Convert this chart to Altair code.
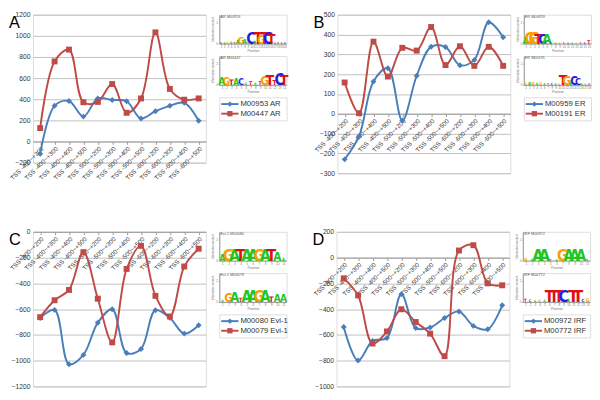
import altair as alt
import pandas as pd

categories = ["TSS -400~+200", "TSS -400~+300", "TSS -400~+400", "TSS -400~+500",
              "TSS -500~+200", "TSS -500~+300", "TSS -500~+400", "TSS -500~+500",
              "TSS -600~+200", "TSS -600~+300", "TSS -600~+400", "TSS -600~+500"]

# Panel A
a_series = ["M00953 AR", "M00447 AR"]
a_blue = [-115, 338, 384, 236, 408, 393, 381, 218, 287, 338, 366, 196]
a_red = [127, 758, 870, 372, 375, 544, 272, 408, 1033, 498, 396, 408]
# Panel B
b_series = ["M00959 ER", "M00191 ER"]
b_blue = [-230, -113, 163, 230, -34, 192, 338, 337, 245, 272, 462, 386]
b_red = [158, 3, 364, 188, 333, 319, 438, 246, 341, 242, 338, 242]
# Panel C
c_series = ["M00080 Evi-1", "M00079 Evi-1"]
c_blue = [-669, -606, -1028, -955, -705, -601, -941, -909, -608, -668, -790, -725]
c_red = [-662, -531, -451, -158, -519, -858, -288, -109, -497, -657, -269, -131]
# Panel D
d_series = ["M00972 IRF", "M00772 IRF"]
d_blue = [-539, -799, -646, -624, -285, -547, -542, -469, -418, -530, -556, -370]
d_red = [-161, -294, -667, -573, -401, -500, -590, -765, 55, 96, -200, -215]

# sequence logos (letters and information content in bits)
a_logo1_title = "AR M00953"
a_logo1_letters = list("CAGATAGAGCATGTCTATAC")
a_logo1_bits = [0.1, 0.1, 0.15, 0.2, 0.1, 0.5, 0.9, 0.6, 0.2, 1.6, 0.3, 1.6, 1.2, 1.6, 1.7, 1.4, 0.1, 0.1, 0.1, 0.1]
a_logo2_title = "AR M00447"
a_logo2_letters = list("AGTACATATGTTCT")
a_logo2_bits = [1.0, 1.0, 0.7, 0.8, 0.8, 0.2, 0.4, 0.2, 0.4, 1.3, 1.5, 0.6, 1.6, 1.5]

b_logo1_title = "ER M00959"
b_logo1_letters = list("AGGTCACAGTCAGTCT")
b_logo1_bits = [0.9, 1.6, 1.7, 1.5, 1.4, 1.5, 0.05, 0.05, 0.05, 0.05, 0.05, 0.05, 0.05, 0.05, 0.1, 0.4]
b_logo2_title = "ER M00191"
b_logo2_letters = list("GAGAGATCAGTGACCAGC")
b_logo2_bits = [0.2, 0.3, 0.3, 0.2, 0.2, 0.1, 0.1, 0.15, 0.1, 0.1, 1.5, 1.3, 0.3, 1.2, 0.9, 0.1, 0.1, 0.1]

c_logo1_title = "Evi-1 M00080"
c_logo1_letters = list("AGATAAGATAA")
c_logo1_bits = [0.8, 1.7, 1.7, 1.7, 1.7, 1.7, 1.7, 1.7, 1.7, 1.2, 0.3]
c_logo2_title = "Evi-1 M00079"
c_logo2_letters = list("AGATAAGATAA")
c_logo2_bits = [0.2, 1.2, 1.4, 0.5, 1.6, 1.6, 1.6, 1.6, 0.7, 1.0, 1.0]

d_logo1_title = "IRF M00972"
d_logo1_letters = list("GAAATAGAAAT")
d_logo1_bits = [0.3, 0.2, 1.8, 1.8, 0.1, 0.1, 1.6, 1.6, 1.6, 1.6, 0.1]
d_logo2_title = "IRF M00772"
d_logo2_letters = list("TCAGATTTCATTCG")
d_logo2_bits = [0.3, 0.2, 0.1, 0.2, 0.2, 1.6, 1.6, 1.6, 1.8, 0.3, 1.8, 1.8, 0.3, 0.4]

BLUE = "#4A7EBB"
RED = "#BE4B48"
GRID = "#BEBEBE"
FONT = "Liberation Sans"
NARROW = "Liberation Sans Narrow, DejaVu Sans Condensed, Liberation Sans"
LETTER_COLORS = ["#22C522", "#1F1FE0", "#F5A000", "#E01010"]

PLOT_W = 180


def line_panel(letter, series, blue, red, ydomain, ystep, height):
    df = pd.DataFrame({
        "cat": categories * 2,
        "value": blue + red,
        "series": [series[0]] * len(blue) + [series[1]] * len(red),
    })
    zero_offset = -height * (0 - ydomain[0]) / (ydomain[1] - ydomain[0])
    ticks = list(range(ydomain[0], ydomain[1] + 1, ystep))
    x = alt.X("cat:N", sort=categories,
              axis=alt.Axis(title=None, labelAngle=-45, labelFontSize=6.5, labelFont=FONT,
                            labelColor="#333333", offset=zero_offset, domainColor="#9A9A9A",
                            tickColor="#9A9A9A", tickSize=3, labelPadding=1, labelOverlap=False,
                            grid=False))
    y = alt.Y("value:Q", scale=alt.Scale(domain=ydomain, nice=False, zero=False),
              axis=alt.Axis(title=None, values=ticks, format="d", grid=True, gridColor=GRID,
                            domain=False, ticks=False, labelFontSize=7, labelFont=FONT,
                            labelColor="#333333", labelPadding=3))
    color = alt.Color("series:N", scale=alt.Scale(domain=series, range=[BLUE, RED]), legend=None)
    shape = alt.Shape("series:N", scale=alt.Scale(domain=series, range=["diamond", "square"]), legend=None)
    base = alt.Chart(df)
    lines = base.mark_line(interpolate="catmull-rom", strokeWidth=2).encode(
        x=x, y=y, color=color, detail="series:N")
    points = base.mark_point(filled=True, size=38, opacity=1).encode(
        x=x, y=y, color=color, shape=shape)
    return alt.layer(lines, points).properties(
        width=PLOT_W, height=height,
        title=alt.TitleParams(letter, anchor="start", frame="bounds", fontSize=17,
                              fontWeight="normal", font=FONT, offset=-22))


def logo(title, letters, bits, h=30):
    df = pd.DataFrame({"pos": list(range(1, len(letters) + 1)), "letter": letters, "bits": bits})
    tdf = pd.DataFrame({"title": [title]})
    yscale = alt.Scale(domain=[0, 2.7])
    x = alt.X("pos:O", axis=alt.Axis(title="Position", titleFontSize=3.5, titleFont=FONT,
                                     titleFontWeight="normal", titleColor="#777777", titlePadding=0,
                                     labelFontSize=3, tickSize=1, labelAngle=0,
                                     domainColor="#999999", tickColor="#999999",
                                     labelColor="#777777", labelPadding=1))
    letters_layer = alt.Chart(df).mark_text(baseline="alphabetic", fontWeight="bold", font=NARROW).encode(
        x=x,
        y=alt.datum(0, scale=yscale,
                    axis=alt.Axis(title="Information content", titleFontSize=3, titleFont=FONT,
                                  titleFontWeight="normal", titleColor="#777777", titlePadding=1,
                                  values=[0, 1, 2], labelFontSize=3, tickSize=1,
                                  domainColor="#999999", tickColor="#999999",
                                  labelColor="#777777", labelPadding=1, grid=False)),
        text="letter:N",
        color=alt.Color("letter:N", scale=alt.Scale(domain=["A", "C", "G", "T"], range=LETTER_COLORS),
                        legend=None),
        size=alt.Size("bits:Q", scale=alt.Scale(domain=[0, 2], range=[2, 19]), legend=None),
    )
    title_layer = alt.Chart(tdf).mark_text(align="left", baseline="middle", fontSize=4, font=FONT,
                                           color="#555555").encode(
        x=alt.value(1), y=alt.datum(2.5, scale=yscale), text="title:N")
    return alt.layer(letters_layer, title_layer).properties(width=70, height=h)


def legend(series):
    df = pd.DataFrame({"series": series})
    y = alt.Y("series:N", sort=series, axis=None, scale=alt.Scale(paddingOuter=0.2))
    color = alt.Color("series:N", scale=alt.Scale(domain=series, range=[BLUE, RED]), legend=None)
    shape = alt.Shape("series:N", scale=alt.Scale(domain=series, range=["diamond", "square"]), legend=None)
    base = alt.Chart(df)
    rule = base.mark_rule(strokeWidth=2).encode(x=alt.value(2), x2=alt.value(20), y=y, color=color)
    pts = base.mark_point(filled=True, size=30, opacity=1).encode(x=alt.value(11), y=y, color=color, shape=shape)
    txt = base.mark_text(align="left", baseline="middle", fontSize=8, font=FONT, color="#333333").encode(
        x=alt.value(22), y=y, text="series:N")
    return alt.layer(rule, pts, txt).properties(width=70, height=24)


def side(l1, l2, series):
    return alt.vconcat(logo(*l1), logo(*l2), legend(series), spacing=3).resolve_scale(
        color="independent", shape="independent", size="independent")


def panel(letter, series, blue, red, ydomain, ystep, height, l1, l2):
    return alt.hconcat(line_panel(letter, series, blue, red, ydomain, ystep, height),
                       side(l1, l2, series), spacing=4).resolve_scale(
        color="independent", shape="independent", size="independent")


pA = panel("A", a_series, a_blue, a_red, [-200, 1200], 200, 154,
           (a_logo1_title, a_logo1_letters, a_logo1_bits), (a_logo2_title, a_logo2_letters, a_logo2_bits))
pB = panel("B", b_series, b_blue, b_red, [-300, 500], 100, 165,
           (b_logo1_title, b_logo1_letters, b_logo1_bits), (b_logo2_title, b_logo2_letters, b_logo2_bits))
pC = panel("C", c_series, c_blue, c_red, [-1200, 0], 200, 161,
           (c_logo1_title, c_logo1_letters, c_logo1_bits), (c_logo2_title, c_logo2_letters, c_logo2_bits))
pD = panel("D", d_series, d_blue, d_red, [-1000, 200], 200, 161,
           (d_logo1_title, d_logo1_letters, d_logo1_bits), (d_logo2_title, d_logo2_letters, d_logo2_bits))

top = alt.hconcat(pA, pB, spacing=24).resolve_scale(color="independent", shape="independent", size="independent")
bottom = alt.hconcat(pC, pD, spacing=24).resolve_scale(color="independent", shape="independent", size="independent")

chart = alt.vconcat(top, bottom, spacing=47).resolve_scale(
    color="independent", shape="independent", size="independent"
).properties(
    padding={"top": -6, "left": 0, "right": 0, "bottom": 0}
).configure_view(stroke="transparent").configure(background="white")

chart.save("out.html", embed_options={"renderer": "svg", "actions": False})
